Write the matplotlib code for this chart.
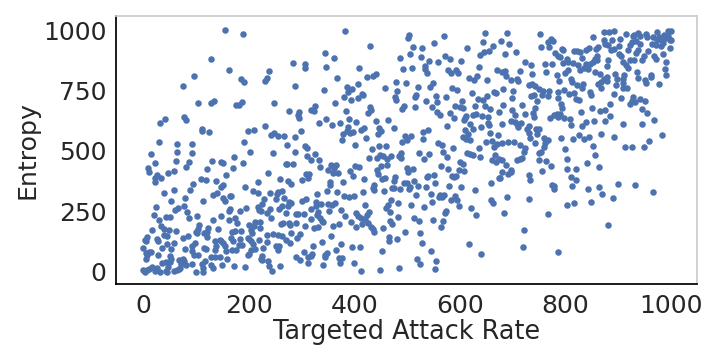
import matplotlib
matplotlib.use('Agg')
import matplotlib.pyplot as plt

# (attack rate, entropy), region by region
left_upper = [
    (156,1000),(190,983),(128,880),(162,835),(97,810),(239,831),(285,864),(306,858),(306,843),(186,797),
    (192,784),(234,802),(232,789),(75,769),(288,769),(105,698),(129,698),(135,707),(177,690),(181,690),
    (188,702),(249,698),(277,665),(296,661),(294,649),(296,636),(42,632),(33,616),(78,641),(82,628),
    (111,591),(112,583),(126,579),(198,583),(211,587),(232,603),(243,566),(249,574),(256,562),(268,562),
    (287,558),(300,583),(31,537),(65,529),(92,529),(192,537),(273,525),(307,521),(311,512),
]
left_lower = [
    (16,487),(65,497),(93,491),(203,497),(247,491),(287,497),(173,475),(311,479),(22,450),(10,430),
    (12,413),(63,458),(88,454),(82,434),(131,458),(148,454),(151,450),(190,450),(122,425),(171,430),
    (270,446),(273,446),(285,446),(48,409),(58,417),(27,401),(23,388),(35,388),(22,372),(158,401),
    (237,409),(309,405),(315,405),(313,388),(109,384),(120,380),(139,376),(260,384),(275,376),(281,363),
    (302,380),(95,363),(217,372),(152,359),(148,351),(194,351),(90,339),(59,339),(40,326),(209,335),
    (218,326),(141,326),(133,318),(167,314),(165,314),(241,326),(256,330),(264,335),(253,322),(251,301),
    (268,306),(80,306),(152,306),(156,293),(54,293),(114,293),(230,301),(277,289),(309,301),(302,293),
    (226,281),(275,273),(25,268),(78,273),(67,264),(61,256),(84,248),(217,268),(220,256),(224,252),
    (241,260),(258,260),(264,273),(281,285),(165,260),(163,252),(196,264),(184,252),(20,235),(103,231),
    (147,231),(88,223),(44,227),(52,227),(31,215),(235,244),(243,223),(270,244),(290,240),(294,240),
    (304,240),(133,215),(162,215),(175,223),(179,202),(213,206),(222,206),(201,194),(211,190),(222,182),
    (262,198),(266,202),(277,202),(279,194),(290,202),(307,190),(35,190),(39,178),(18,173),(50,173),
    (63,169),(107,194),(105,178),(101,165),(124,182),(122,165),(116,161),(143,178),(186,169),(175,169),
    (169,165),(205,173),(207,161),(281,161),(298,157),(234,153),(247,157),(256,153),(264,149),(40,153),
    (8,144),(3,132),(5,128),(27,136),(29,128),(46,149),(75,140),(86,149),(122,144),(103,161),
    (167,140),(171,128),(184,136),(198,140),(201,136),(205,128),(220,132),(271,132),(279,120),(292,140),
    (235,124),(137,128),(145,132),(148,128),(152,120),(99,120),(92,107),(58,120),(46,116),(181,111),
    (188,111),(209,116),(251,107),(1,99),(37,99),(54,95),(80,95),(116,99),(120,95),(139,107),
    (137,91),(156,107),(158,87),(169,91),(177,91),(205,91),(213,95),(228,99),(256,91),(258,107),
    (12,82),(6,78),(16,82),(8,70),(6,54),(29,70),(52,66),(93,87),(97,70),(105,70),
    (128,62),(137,62),(145,62),(201,74),(199,70),(226,66),(224,54),(160,54),(237,45),(290,62),
    (298,50),(304,82),(313,62),(313,37),(260,25),(239,25),(194,21),(173,25),(150,29),(129,29),
    (133,16),(118,45),(111,33),(114,16),(114,0),(101,0),(92,33),(82,29),(75,54),(69,50),
    (78,45),(73,33),(69,12),(59,4),(65,8),(71,16),(54,54),(52,41),(44,41),(37,37),
    (48,21),(44,4),(46,0),(33,0),(23,2),(27,16),(18,21),(12,12),(8,8),(3,0),
    (1,8),(245,2),(226,50),
]
middle_upper = [
    (383,996),(504,979),(502,967),(570,975),(648,988),(644,950),(430,934),(551,946),(512,930),(529,926),
    (614,926),(663,934),(345,905),(362,884),(506,901),(487,884),(527,888),(572,892),(582,880),(542,872),
    (559,868),(602,872),(638,897),(646,909),(655,913),(347,847),(409,843),(493,839),(510,843),(534,851),
    (534,839),(538,822),(637,847),(578,835),(584,822),(593,835),(597,822),(671,835),(368,802),(425,806),
    (436,810),(442,818),(618,802),(627,793),(633,810),(652,793),(479,785),(498,781),(549,781),(544,764),
    (521,764),(407,777),(387,764),(459,760),(481,748),(343,752),(396,756),(389,744),(585,760),(595,752),
    (623,740),(665,744),(669,740),(381,723),(394,711),(407,719),(415,736),(417,731),(478,723),(479,711),
    (517,731),(515,723),(555,727),(574,723),(635,715),(644,711),(652,727),(536,707),(557,702),(604,707),
    (364,698),(495,686),(491,674),(515,682),(548,682),(591,686),(601,682),(606,678),(629,686),(648,686),
    (657,674),(325,686),(319,669),(324,665),(430,682),(432,669),(426,657),(385,665),(557,661),(563,649),
    (582,657),(612,645),(625,649),(631,653),(642,645),(654,641),(674,661),(347,632),(390,632),(334,616),
    (358,607),(373,616),(404,620),(442,624),(464,628),(589,636),(610,636),(608,628),(654,616),(655,607),
    (619,612),(389,599),(447,595),(476,595),(576,603),(640,599),(625,591),(610,587),(413,587),(419,595),
    (387,583),(379,570),(392,574),(398,579),(451,583),(445,570),(540,587),(531,579),(616,570),(657,574),
    (672,566),(377,545),(423,554),(496,562),(508,562),(500,545),(531,550),(606,558),(612,550),(619,545),
    (650,537),(661,541),(491,537),(402,525),(447,521),(460,521),(434,508),(559,533),(567,525),(587,512),
    (637,512),(665,517),(671,529),
]
middle_lower = [
    (326,487),(334,463),(319,463),(336,434),(351,421),(356,442),(366,442),(362,430),(360,409),(370,409),
    (402,438),(409,434),(392,417),(398,396),(428,471),(443,471),(449,483),(455,479),(462,467),(470,479),
    (485,479),(489,471),(489,491),(451,438),(462,442),(443,421),(445,405),(419,384),(453,384),(459,388),
    (478,392),(476,376),(500,430),(502,413),(512,425),(532,467),(523,491),(542,487),(568,496),(576,475),
    (614,491),(619,487),(625,483),(638,475),(565,438),(578,425),(601,454),(606,446),(599,421),(608,417),
    (585,396),(589,392),(593,396),(538,392),(551,401),(540,396),(661,463),(669,454),(667,483),(674,467),
    (553,367),(580,355),(602,351),(659,367),(674,388),(629,339),(379,372),(354,372),(354,359),(349,335),
    (368,330),(330,322),(381,314),(390,310),(400,314),(417,330),(438,359),(436,347),(438,339),(457,335),
    (472,347),(476,347),(487,343),(495,367),(500,367),(513,376),(521,355),(506,351),(504,343),(536,351),
    (517,318),(546,322),(563,318),(561,310),(570,318),(566,310),(591,314),(595,297),(584,297),(548,289),
    (470,297),(483,285),(508,277),(532,268),(599,273),(621,264),(659,297),(663,285),(319,260),(328,289),
    (328,273),(337,281),(351,281),(358,277),(364,285),(421,277),(464,277),(460,264),(468,248),(353,252),
    (375,256),(332,248),(330,235),(404,244),(407,231),(428,248),(425,235),(383,231),(319,219),(336,223),
    (339,211),(341,206),(413,223),(421,219),(394,206),(372,198),(415,198),(426,202),(360,190),(404,186),
    (332,186),(324,182),(432,186),(436,178),(438,165),(468,211),(472,198),(483,227),(513,223),(523,211),
    (549,215),(568,211),(565,186),(572,244),(574,252),(631,235),(455,182),(496,165),(525,161),(356,149),
    (339,124),(322,107),(375,116),(466,144),(466,128),(481,136),(529,120),(618,116),(366,91),(396,103),
    (411,103),(453,87),(546,87),(640,74),(320,74),(319,66),(345,70),(349,78),(345,62),(372,58),
    (377,58),(373,37),(400,37),(519,54),(525,33),(555,45),(341,29),(553,12),(485,16),(449,8),
    (413,4),
]
right_upper = [
    (690,988),(752,983),(677,954),(694,942),(707,909),(686,901),(754,930),(766,950),(773,963),(777,954),
    (769,930),(794,921),(796,917),(781,905),(785,893),(790,888),(817,913),(822,913),(828,909),(838,917),
    (845,926),(858,921),(862,930),(853,971),(872,992),(883,992),(891,996),(915,983),(927,975),(938,988),
    (930,979),(953,983),(955,971),(942,975),(974,992),(995,996),(1000,996),(987,979),(998,959),(1000,959),
    (978,971),(966,971),(974,959),(983,959),(991,967),(964,942),(972,938),(980,934),(985,946),(995,975),
    (872,959),(874,942),(881,938),(889,959),(904,963),(887,917),(891,921),(902,934),(925,950),(923,938),
    (934,954),(919,917),(942,942),(938,917),(934,905),(957,913),(997,926),(902,901),(906,893),(860,893),
    (856,880),(832,884),(860,876),(802,880),(805,868),(796,864),(815,864),(853,868),(847,859),(838,859),
    (824,855),(828,835),(836,843),(843,839),(881,876),(879,851),(762,859),(775,859),(735,855),(724,868),
    (713,831),(686,831),(679,826),(688,810),(696,793),(709,797),(711,789),(737,818),(764,826),(800,822),
    (805,835),(783,814),(788,789),(811,797),(813,785),(822,773),(834,777),(832,760),(856,826),(866,818),
    (879,806),(872,797),(862,777),(868,785),(879,789),(868,760),(894,818),(911,814),(898,797),(908,797),
    (896,773),(908,781),(908,760),(917,760),(908,868),(915,855),(919,843),(923,876),(930,876),(945,876),
    (949,893),(968,893),(972,880),(985,901),(991,868),(989,839),(991,814),(936,826),(938,802),(961,814),
    (961,806),(951,793),(953,781),(978,777),(730,773),(737,777),(743,769),(750,756),(758,748),(769,748),
    (756,731),(766,727),(785,744),(786,719),(798,752),(807,736),(817,740),(819,715),(826,711),(847,744),
    (849,731),(892,736),(906,719),(928,723),(926,707),(932,702),(942,715),(951,707),(923,694),(682,756),
    (701,748),(699,719),(735,727),(741,731),(747,707),(682,690),(718,690),(743,678),(792,694),(794,678),
    (885,694),(851,678),(944,674),(699,669),(724,653),(739,657),(741,641),(705,649),(830,661),(866,665),
    (874,669),(955,657),(783,653),(790,653),(779,649),(771,636),(785,641),(798,636),(809,632),(885,645),
    (968,628),(697,624),(705,620),(709,612),(716,616),(711,599),(680,612),(839,620),(854,624),(874,624),
    (811,607),(832,603),(909,612),(944,612),(730,603),(728,591),(730,574),(745,591),(750,591),(747,570),
    (733,554),(760,554),(767,545),(792,554),(826,566),(815,550),(836,550),(845,558),(868,570),(892,558),
    (983,566),(959,541),(680,533),(692,537),(703,537),(714,525),(743,533),(762,533),(760,517),(853,521),
    (913,517),(925,517),(949,517),(724,512),(800,508),
]
right_lower = [
    (679,463),(688,442),(679,413),(676,388),(709,463),(714,467),(718,471),(722,496),(749,491),(754,496),
    (749,463),(764,458),(773,438),(756,417),(697,421),(696,413),(692,405),(731,401),(733,380),(803,467),
    (855,483),(841,450),(864,434),(803,425),(819,425),(811,392),(820,380),(775,359),(779,355),(779,343),
    (813,355),(843,343),(864,351),(900,363),(932,359),(966,330),(870,322),(690,310),(730,301),(890,306),
    (849,289),(817,285),(802,277),(684,244),(767,239),(881,194),(722,173),(720,103),(785,82),
]

regions = [left_upper, left_lower, middle_upper, middle_lower, right_upper, right_lower]

fig = plt.figure(figsize=(7.2, 3.6), dpi=100)
ax = fig.add_axes([116 / 720, 1 - 284 / 360, 581 / 720, 268 / 360])

for region in regions:
    attack_rate = [p[0] for p in region]
    entropy = [p[1] for p in region]
    ax.scatter(attack_rate, entropy, s=22, color='#4c72b0', linewidths=0, zorder=3)

ax.set_xlim(-51, 1049)
ax.set_ylim(-50, 1058)
ax.set_xticks([0, 200, 400, 600, 800, 1000])
ax.set_yticks([0, 250, 500, 750, 1000])
ax.tick_params(length=0, labelsize=18, labelcolor='#262626', pad=7)
ax.set_xlabel('Targeted Attack Rate', fontsize=18.4, color='#262626', labelpad=1)
ax.set_ylabel('Entropy', fontsize=18.2, color='#262626', labelpad=2)

ax.spines['left'].set_color('black')
ax.spines['bottom'].set_color('black')
ax.spines['top'].set_color('#cccccc')
ax.spines['right'].set_color('#cccccc')
for side in ax.spines:
    ax.spines[side].set_linewidth(1.25)

fig.savefig('out.png', dpi=100)
